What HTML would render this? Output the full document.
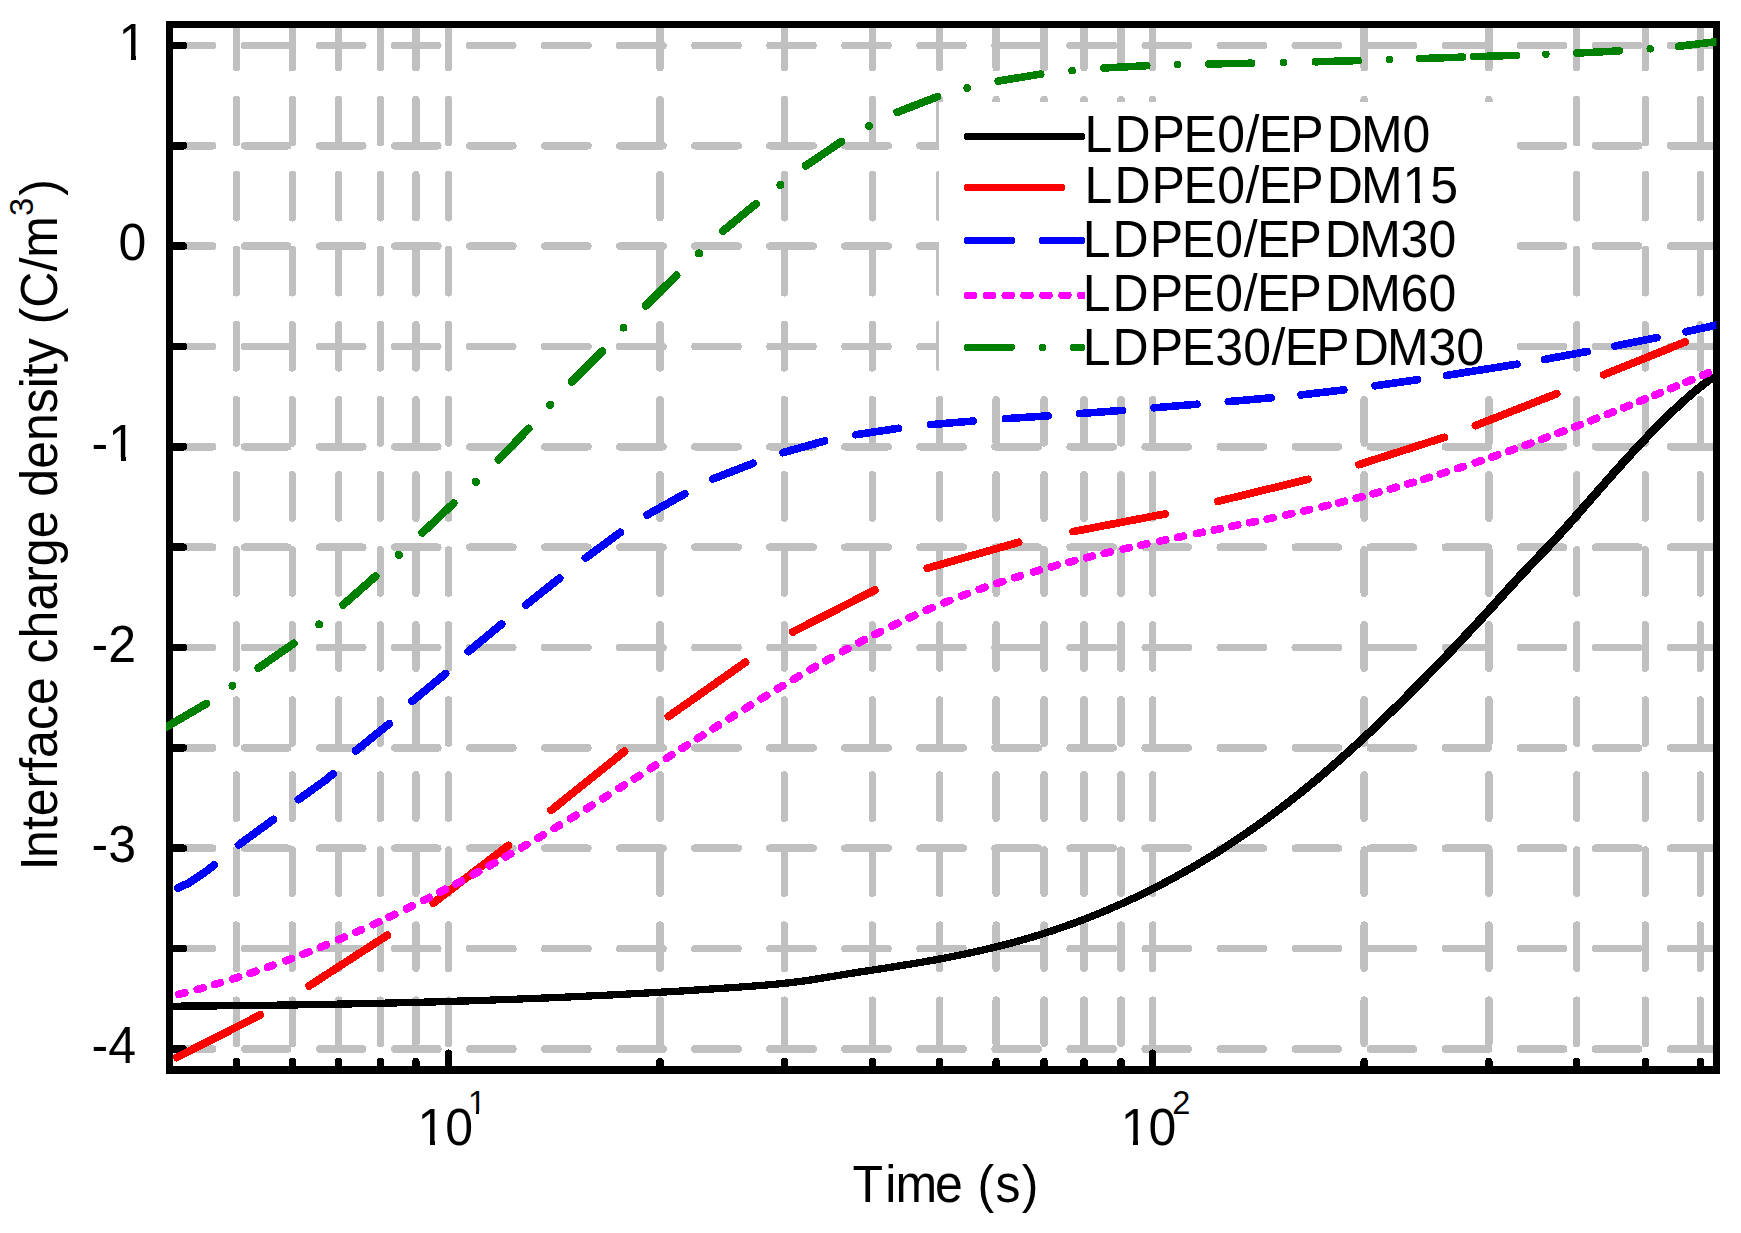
<!DOCTYPE html>
<html lang="en"><head><meta charset="utf-8"><title>Interface charge density vs time</title>
<style>html,body{margin:0;padding:0;background:#fff}svg{display:block}text{font-family:"Liberation Sans",Arial,sans-serif;fill:#000}</style>
</head><body>
<svg width="1741" height="1233" viewBox="0 0 1741 1233" shape-rendering="crispEdges">
<rect x="0" y="0" width="1741" height="1233" fill="#fff"/>
<defs>
<clipPath id="plotclip"><rect x="166" y="21" width="1550.5" height="1052"/></clipPath>
<clipPath id="gridclip"><rect x="166" y="21" width="1554" height="1052"/></clipPath>
</defs>
<g stroke="#c0c0c0" stroke-width="7.5" stroke-linecap="round" stroke-dasharray="43.2 31.85" fill="none" clip-path="url(#gridclip)">
<line x1="236.4" y1="24.5" x2="236.4" y2="1069.8"/>
<line x1="292.3" y1="24.5" x2="292.3" y2="1069.8"/>
<line x1="338.7" y1="24.5" x2="338.7" y2="1069.8"/>
<line x1="380.4" y1="24.5" x2="380.4" y2="1069.8"/>
<line x1="415.9" y1="24.5" x2="415.9" y2="1069.8"/>
<line x1="448.5" y1="24.5" x2="448.5" y2="1069.8"/>
<line x1="660.0" y1="24.5" x2="660.0" y2="1069.8"/>
<line x1="784.4" y1="24.5" x2="784.4" y2="1069.8"/>
<line x1="872.4" y1="24.5" x2="872.4" y2="1069.8"/>
<line x1="939.6" y1="24.5" x2="939.6" y2="1069.8"/>
<line x1="996.2" y1="24.5" x2="996.2" y2="1069.8"/>
<line x1="1044.1" y1="24.5" x2="1044.1" y2="1069.8"/>
<line x1="1084.0" y1="24.5" x2="1084.0" y2="1069.8"/>
<line x1="1121.0" y1="24.5" x2="1121.0" y2="1069.8"/>
<line x1="1152.6" y1="24.5" x2="1152.6" y2="1069.8"/>
<line x1="1364.2" y1="24.5" x2="1364.2" y2="1069.8"/>
<line x1="1488.9" y1="24.5" x2="1488.9" y2="1069.8"/>
<line x1="1576.7" y1="24.5" x2="1576.7" y2="1069.8"/>
<line x1="1645.3" y1="24.5" x2="1645.3" y2="1069.8"/>
<line x1="1700.3" y1="24.5" x2="1700.3" y2="1069.8"/>
<line x1="169.5" y1="45.5" x2="1716.5" y2="45.5"/>
<line x1="169.5" y1="145.8" x2="1716.5" y2="145.8"/>
<line x1="169.5" y1="246.1" x2="1716.5" y2="246.1"/>
<line x1="169.5" y1="346.5" x2="1716.5" y2="346.5"/>
<line x1="169.5" y1="446.8" x2="1716.5" y2="446.8"/>
<line x1="169.5" y1="547.2" x2="1716.5" y2="547.2"/>
<line x1="169.5" y1="647.5" x2="1716.5" y2="647.5"/>
<line x1="169.5" y1="747.9" x2="1716.5" y2="747.9"/>
<line x1="169.5" y1="848.2" x2="1716.5" y2="848.2"/>
<line x1="169.5" y1="948.6" x2="1716.5" y2="948.6"/>
<line x1="169.5" y1="1049.0" x2="1716.5" y2="1049.0"/>
</g>
<g stroke="#000" stroke-width="7.5" fill="none">
<rect x="169.5" y="24.5" width="1547.0" height="1045.3" stroke-linejoin="miter"/>
</g>
<g stroke="#000" stroke-width="7.5" stroke-linecap="round" fill="none">
<line x1="169.5" y1="45.5" x2="183.5" y2="45.5"/>
<line x1="169.5" y1="145.8" x2="183.5" y2="145.8"/>
<line x1="169.5" y1="246.1" x2="183.5" y2="246.1"/>
<line x1="169.5" y1="346.5" x2="183.5" y2="346.5"/>
<line x1="169.5" y1="446.8" x2="183.5" y2="446.8"/>
<line x1="169.5" y1="547.2" x2="183.5" y2="547.2"/>
<line x1="169.5" y1="647.5" x2="183.5" y2="647.5"/>
<line x1="169.5" y1="747.9" x2="183.5" y2="747.9"/>
<line x1="169.5" y1="848.2" x2="183.5" y2="848.2"/>
<line x1="169.5" y1="948.6" x2="183.5" y2="948.6"/>
<line x1="169.5" y1="1049.0" x2="183.5" y2="1049.0"/>
<line x1="236.4" y1="1069.8" x2="236.4" y2="1061.5"/>
<line x1="292.3" y1="1069.8" x2="292.3" y2="1061.5"/>
<line x1="338.7" y1="1069.8" x2="338.7" y2="1061.5"/>
<line x1="380.4" y1="1069.8" x2="380.4" y2="1061.5"/>
<line x1="415.9" y1="1069.8" x2="415.9" y2="1061.5"/>
<line x1="448.5" y1="1069.8" x2="448.5" y2="1053.2"/>
<line x1="660.0" y1="1069.8" x2="660.0" y2="1061.5"/>
<line x1="784.4" y1="1069.8" x2="784.4" y2="1061.5"/>
<line x1="872.4" y1="1069.8" x2="872.4" y2="1061.5"/>
<line x1="939.6" y1="1069.8" x2="939.6" y2="1061.5"/>
<line x1="996.2" y1="1069.8" x2="996.2" y2="1061.5"/>
<line x1="1044.1" y1="1069.8" x2="1044.1" y2="1061.5"/>
<line x1="1084.0" y1="1069.8" x2="1084.0" y2="1061.5"/>
<line x1="1121.0" y1="1069.8" x2="1121.0" y2="1061.5"/>
<line x1="1152.6" y1="1069.8" x2="1152.6" y2="1053.2"/>
<line x1="1364.2" y1="1069.8" x2="1364.2" y2="1061.5"/>
<line x1="1488.9" y1="1069.8" x2="1488.9" y2="1061.5"/>
<line x1="1576.7" y1="1069.8" x2="1576.7" y2="1061.5"/>
<line x1="1645.3" y1="1069.8" x2="1645.3" y2="1061.5"/>
<line x1="1700.3" y1="1069.8" x2="1700.3" y2="1061.5"/>
</g>
<rect x="939" y="102" width="555" height="270" fill="#fff"/>
<g fill="none" stroke-linejoin="round" stroke-linecap="round" clip-path="url(#plotclip)">
<path d="M166.0 1009.9 L169.0 1009.9 L172.0 1009.8 L175.0 1009.8 L178.0 1009.8 L181.0 1009.8 L184.0 1009.7 L187.0 1009.7 L190.0 1009.7 L193.0 1009.7 L196.0 1009.6 L199.0 1009.6 L202.0 1009.6 L205.0 1009.6 L208.0 1009.5 L211.0 1009.5 L214.0 1009.5 L217.0 1009.5 L220.0 1009.4 L223.0 1009.4 L226.0 1009.4 L229.0 1009.3 L232.0 1009.3 L235.0 1009.3 L238.0 1009.2 L241.0 1009.2 L244.0 1009.2 L247.0 1009.1 L250.0 1009.1 L253.0 1009.1 L256.0 1009.0 L259.0 1009.0 L262.0 1009.0 L265.0 1008.9 L268.0 1008.9 L271.0 1008.8 L274.0 1008.8 L277.1 1008.8 L280.1 1008.7 L283.1 1008.7 L286.1 1008.6 L289.1 1008.6 L292.1 1008.5 L295.1 1008.5 L298.1 1008.5 L301.1 1008.4 L304.1 1008.4 L307.1 1008.3 L310.1 1008.3 L313.1 1008.2 L316.1 1008.2 L319.1 1008.1 L322.1 1008.1 L325.1 1008.0 L328.1 1008.0 L331.1 1007.9 L334.1 1007.8 L337.1 1007.8 L340.1 1007.7 L343.1 1007.7 L346.1 1007.6 L349.1 1007.6 L352.1 1007.5 L355.1 1007.4 L358.1 1007.4 L361.1 1007.3 L364.1 1007.2 L367.1 1007.2 L370.1 1007.1 L373.1 1007.1 L376.1 1007.0 L379.1 1006.9 L382.1 1006.8 L385.1 1006.8 L388.1 1006.7 L391.1 1006.6 L394.1 1006.6 L397.1 1006.5 L400.1 1006.4 L403.1 1006.3 L406.1 1006.3 L409.1 1006.2 L412.1 1006.1 L415.1 1006.0 L418.1 1006.0 L421.1 1005.9 L424.1 1005.8 L427.1 1005.7 L430.1 1005.6 L433.1 1005.5 L436.1 1005.5 L439.1 1005.4 L442.1 1005.3 L445.1 1005.2 L448.1 1005.1 L451.1 1005.0 L454.1 1004.9 L457.1 1004.8 L460.1 1004.7 L463.1 1004.6 L466.1 1004.6 L469.1 1004.5 L472.1 1004.4 L475.1 1004.3 L478.1 1004.2 L481.1 1004.1 L484.1 1004.0 L487.1 1003.9 L490.1 1003.8 L493.1 1003.6 L496.1 1003.5 L499.1 1003.4 L502.1 1003.3 L505.1 1003.2 L508.1 1003.1 L511.1 1003.0 L514.1 1002.9 L517.1 1002.8 L520.1 1002.6 L523.1 1002.5 L526.1 1002.4 L529.1 1002.3 L532.1 1002.2 L535.1 1002.1 L538.1 1001.9 L541.2 1001.8 L544.2 1001.7 L547.2 1001.6 L550.2 1001.4 L553.2 1001.3 L556.2 1001.2 L559.2 1001.0 L562.2 1000.9 L565.2 1000.8 L568.2 1000.6 L571.2 1000.5 L574.2 1000.4 L577.2 1000.2 L580.2 1000.1 L583.2 1000.0 L586.2 999.8 L589.2 999.7 L592.2 999.5 L595.2 999.4 L598.2 999.2 L601.2 999.1 L604.2 998.9 L607.2 998.8 L610.2 998.6 L613.2 998.5 L616.2 998.3 L619.2 998.2 L622.2 998.0 L625.2 997.8 L628.2 997.7 L631.2 997.5 L634.2 997.4 L637.2 997.2 L640.2 997.0 L643.2 996.9 L646.2 996.7 L649.2 996.5 L652.2 996.4 L655.2 996.2 L658.2 996.0 L661.2 995.8 L664.2 995.6 L667.2 995.5 L670.2 995.3 L673.2 995.1 L676.2 994.9 L679.2 994.7 L682.2 994.6 L685.2 994.4 L688.2 994.2 L691.2 994.0 L694.2 993.8 L697.2 993.6 L700.2 993.4 L703.2 993.2 L706.2 993.0 L709.2 992.8 L712.2 992.6 L715.2 992.4 L718.2 992.2 L721.3 992.0 L724.3 991.8 L727.3 991.6 L730.3 991.4 L733.3 991.2 L736.3 990.9 L739.3 990.7 L742.3 990.5 L745.3 990.3 L748.3 990.1 L751.3 989.9 L754.3 989.6 L757.3 989.4 L760.3 989.2 L763.3 988.9 L766.3 988.7 L769.3 988.4 L772.3 988.2 L775.3 987.9 L778.4 987.6 L781.4 987.3 L784.4 987.0 L787.4 986.7 L790.4 986.3 L793.4 986.0 L796.5 985.6 L799.5 985.2 L802.5 984.8 L805.5 984.4 L808.5 983.9 L811.6 983.5 L814.6 983.0 L817.6 982.5 L820.6 982.0 L823.6 981.5 L826.6 981.0 L829.6 980.5 L832.6 980.0 L835.6 979.6 L838.6 979.1 L841.6 978.6 L844.6 978.1 L847.6 977.6 L850.6 977.1 L853.6 976.7 L856.6 976.2 L859.6 975.7 L862.6 975.3 L865.6 974.8 L868.6 974.4 L871.6 973.9 L874.6 973.4 L877.6 973.0 L880.6 972.5 L883.6 972.1 L886.6 971.6 L889.6 971.1 L892.6 970.7 L895.6 970.2 L898.6 969.7 L901.6 969.2 L904.6 968.8 L907.6 968.3 L910.6 967.8 L913.6 967.3 L916.6 966.8 L919.6 966.3 L922.6 965.8 L925.6 965.3 L928.6 964.7 L931.6 964.2 L934.7 963.7 L937.7 963.1 L940.7 962.6 L943.7 962.0 L946.7 961.4 L949.7 960.8 L952.7 960.2 L955.7 959.6 L958.7 959.0 L961.7 958.4 L964.8 957.8 L967.8 957.2 L970.8 956.5 L973.8 955.9 L976.8 955.2 L979.8 954.5 L982.8 953.8 L985.8 953.1 L988.9 952.4 L991.9 951.7 L994.9 951.0 L997.9 950.2 L1000.9 949.5 L1003.9 948.7 L1006.9 947.9 L1009.9 947.2 L1013.0 946.4 L1016.0 945.5 L1019.0 944.7 L1022.0 943.9 L1025.0 943.0 L1028.0 942.1 L1031.1 941.3 L1034.1 940.4 L1037.1 939.4 L1040.1 938.5 L1043.1 937.6 L1046.1 936.6 L1049.1 935.6 L1052.2 934.7 L1055.2 933.7 L1058.2 932.6 L1061.2 931.6 L1064.2 930.6 L1067.2 929.5 L1070.3 928.4 L1073.3 927.4 L1076.3 926.3 L1079.3 925.1 L1082.3 924.0 L1085.3 922.9 L1088.4 921.7 L1091.4 920.5 L1094.4 919.3 L1097.4 918.1 L1100.4 916.9 L1103.4 915.6 L1106.5 914.4 L1109.5 913.1 L1112.5 911.8 L1115.5 910.5 L1118.5 909.2 L1121.5 907.9 L1124.6 906.5 L1127.6 905.2 L1130.6 903.8 L1133.6 902.4 L1136.6 901.0 L1139.6 899.5 L1142.7 898.1 L1145.7 896.6 L1148.7 895.1 L1151.7 893.6 L1154.7 892.1 L1157.7 890.6 L1160.8 889.1 L1163.8 887.5 L1166.8 885.9 L1169.8 884.3 L1172.8 882.7 L1175.8 881.1 L1178.9 879.4 L1181.9 877.7 L1184.9 876.1 L1187.9 874.4 L1190.9 872.6 L1193.9 870.9 L1197.0 869.1 L1200.0 867.4 L1203.0 865.6 L1206.0 863.8 L1209.0 861.9 L1212.0 860.1 L1215.1 858.2 L1218.1 856.4 L1221.1 854.5 L1224.1 852.5 L1227.1 850.6 L1230.1 848.7 L1233.2 846.7 L1236.2 844.7 L1239.2 842.7 L1242.2 840.7 L1245.2 838.6 L1248.2 836.6 L1251.3 834.5 L1254.3 832.4 L1257.3 830.3 L1260.3 828.1 L1263.3 826.0 L1266.3 823.8 L1269.4 821.6 L1272.4 819.4 L1275.4 817.2 L1278.4 814.9 L1281.4 812.7 L1284.4 810.4 L1287.5 808.1 L1290.5 805.8 L1293.5 803.4 L1296.5 801.1 L1299.5 798.7 L1302.5 796.3 L1305.6 793.9 L1308.6 791.5 L1311.6 789.0 L1314.6 786.6 L1317.6 784.1 L1320.6 781.6 L1323.7 779.0 L1326.7 776.5 L1329.7 773.9 L1332.7 771.3 L1335.7 768.7 L1338.7 766.1 L1341.8 763.5 L1344.8 760.8 L1347.8 758.1 L1350.8 755.4 L1353.8 752.7 L1356.8 750.0 L1359.9 747.2 L1362.9 744.5 L1365.9 741.7 L1368.9 738.9 L1371.9 736.1 L1374.9 733.3 L1377.9 730.4 L1380.9 727.6 L1384.0 724.7 L1387.0 721.8 L1390.0 718.9 L1393.0 716.0 L1396.0 713.0 L1399.0 710.1 L1402.0 707.1 L1405.0 704.2 L1408.0 701.2 L1411.1 698.2 L1414.1 695.2 L1417.1 692.1 L1420.1 689.1 L1423.1 686.1 L1426.1 683.0 L1429.1 679.9 L1432.1 676.9 L1435.1 673.8 L1438.1 670.7 L1441.1 667.6 L1444.1 664.4 L1447.1 661.3 L1450.2 658.2 L1453.2 655.0 L1456.2 651.9 L1459.2 648.7 L1462.2 645.5 L1465.2 642.3 L1468.2 639.1 L1471.2 635.9 L1474.2 632.7 L1477.2 629.5 L1480.2 626.3 L1483.2 623.0 L1486.2 619.8 L1489.2 616.5 L1492.2 613.2 L1495.3 610.0 L1498.3 606.7 L1501.3 603.4 L1504.3 600.1 L1507.3 596.7 L1510.3 593.4 L1513.3 590.2 L1516.3 586.9 L1519.3 583.6 L1522.3 580.4 L1525.2 577.2 L1528.2 574.0 L1531.2 570.8 L1534.2 567.7 L1537.2 564.5 L1540.2 561.4 L1543.2 558.3 L1546.2 555.1 L1549.2 552.0 L1552.2 548.8 L1555.2 545.6 L1558.2 542.4 L1561.2 539.1 L1564.2 535.8 L1567.2 532.5 L1570.3 529.1 L1573.3 525.7 L1576.3 522.3 L1579.3 518.9 L1582.3 515.5 L1585.3 512.0 L1588.2 508.6 L1591.2 505.2 L1594.2 501.8 L1597.2 498.4 L1600.2 494.9 L1603.2 491.5 L1606.2 488.1 L1609.2 484.7 L1612.2 481.3 L1615.2 478.0 L1618.2 474.6 L1621.2 471.3 L1624.2 467.9 L1627.1 464.6 L1630.1 461.3 L1633.1 458.0 L1636.1 454.8 L1639.1 451.5 L1642.1 448.3 L1645.1 445.1 L1648.1 442.0 L1651.0 438.8 L1654.0 435.7 L1657.0 432.6 L1660.0 429.6 L1663.0 426.6 L1665.9 423.6 L1668.9 420.6 L1671.9 417.7 L1674.9 414.9 L1677.9 412.0 L1680.8 409.3 L1683.8 406.5 L1686.8 403.8 L1689.7 401.2 L1692.7 398.6 L1695.7 396.0 L1698.6 393.6 L1701.6 391.1 L1704.6 388.7 L1707.5 386.4 L1710.5 384.1 L1713.4 381.9 L1716.4 379.7 L1711.6 373.1 L1708.6 375.3 L1705.5 377.6 L1702.5 379.9 L1699.4 382.3 L1696.4 384.7 L1693.4 387.2 L1690.3 389.7 L1687.3 392.3 L1684.3 395.0 L1681.2 397.7 L1678.2 400.4 L1675.2 403.2 L1672.1 406.0 L1669.1 408.8 L1666.1 411.7 L1663.1 414.7 L1660.1 417.6 L1657.0 420.7 L1654.0 423.7 L1651.0 426.8 L1648.0 429.9 L1645.0 433.0 L1641.9 436.2 L1638.9 439.3 L1635.9 442.6 L1632.9 445.8 L1629.9 449.0 L1626.9 452.3 L1623.9 455.6 L1620.9 458.9 L1617.8 462.2 L1614.8 465.6 L1611.8 468.9 L1608.8 472.3 L1605.8 475.7 L1602.8 479.1 L1599.8 482.5 L1596.8 485.9 L1593.8 489.3 L1590.8 492.7 L1587.8 496.1 L1584.8 499.5 L1581.8 502.9 L1578.7 506.3 L1575.7 509.7 L1572.7 513.2 L1569.7 516.6 L1566.7 519.9 L1563.7 523.3 L1560.8 526.6 L1557.8 529.9 L1554.8 533.2 L1551.8 536.4 L1548.8 539.6 L1545.8 542.7 L1542.8 545.9 L1539.8 549.0 L1536.8 552.2 L1533.8 555.3 L1530.8 558.4 L1527.8 561.5 L1524.8 564.7 L1521.8 567.9 L1518.8 571.1 L1515.7 574.3 L1512.7 577.6 L1509.7 580.9 L1506.7 584.2 L1503.7 587.5 L1500.7 590.8 L1497.7 594.1 L1494.7 597.4 L1491.7 600.7 L1488.7 604.0 L1485.8 607.3 L1482.8 610.6 L1479.8 613.8 L1476.8 617.1 L1473.8 620.3 L1470.8 623.5 L1467.8 626.7 L1464.8 630.0 L1461.8 633.2 L1458.8 636.3 L1455.8 639.5 L1452.8 642.7 L1449.8 645.9 L1446.8 649.0 L1443.8 652.2 L1440.9 655.3 L1437.9 658.4 L1434.9 661.5 L1431.9 664.6 L1428.9 667.7 L1425.9 670.8 L1422.9 673.9 L1419.9 676.9 L1416.9 680.0 L1413.9 683.0 L1410.9 686.1 L1407.9 689.1 L1404.9 692.1 L1402.0 695.1 L1399.0 698.0 L1396.0 701.0 L1393.0 704.0 L1390.0 706.9 L1387.0 709.8 L1384.0 712.7 L1381.0 715.6 L1378.0 718.5 L1375.1 721.4 L1372.1 724.2 L1369.1 727.1 L1366.1 729.9 L1363.1 732.7 L1360.1 735.5 L1357.1 738.3 L1354.1 741.0 L1351.2 743.8 L1348.2 746.5 L1345.2 749.2 L1342.2 751.9 L1339.2 754.5 L1336.2 757.2 L1333.3 759.8 L1330.3 762.4 L1327.3 765.0 L1324.3 767.6 L1321.3 770.2 L1318.3 772.7 L1315.4 775.2 L1312.4 777.7 L1309.4 780.2 L1306.4 782.7 L1303.4 785.1 L1300.4 787.6 L1297.5 790.0 L1294.5 792.3 L1291.5 794.7 L1288.5 797.1 L1285.5 799.4 L1282.5 801.7 L1279.6 804.0 L1276.6 806.3 L1273.6 808.5 L1270.6 810.8 L1267.6 813.0 L1264.6 815.2 L1261.7 817.4 L1258.7 819.5 L1255.7 821.7 L1252.7 823.8 L1249.7 825.9 L1246.7 828.0 L1243.8 830.1 L1240.8 832.1 L1237.8 834.1 L1234.8 836.2 L1231.8 838.1 L1228.8 840.1 L1225.9 842.1 L1222.9 844.0 L1219.9 845.9 L1216.9 847.9 L1213.9 849.7 L1210.9 851.6 L1208.0 853.5 L1205.0 855.3 L1202.0 857.1 L1199.0 858.9 L1196.0 860.7 L1193.0 862.5 L1190.1 864.2 L1187.1 865.9 L1184.1 867.6 L1181.1 869.3 L1178.1 871.0 L1175.1 872.7 L1172.2 874.3 L1169.2 875.9 L1166.2 877.5 L1163.2 879.1 L1160.2 880.7 L1157.2 882.3 L1154.3 883.8 L1151.3 885.3 L1148.3 886.8 L1145.3 888.3 L1142.3 889.8 L1139.3 891.2 L1136.4 892.7 L1133.4 894.1 L1130.4 895.5 L1127.4 896.9 L1124.4 898.3 L1121.4 899.6 L1118.5 901.0 L1115.5 902.3 L1112.5 903.6 L1109.5 904.9 L1106.5 906.2 L1103.5 907.5 L1100.6 908.7 L1097.6 909.9 L1094.6 911.2 L1091.6 912.4 L1088.6 913.5 L1085.6 914.7 L1082.7 915.9 L1079.7 917.0 L1076.7 918.1 L1073.7 919.2 L1070.7 920.3 L1067.7 921.4 L1064.8 922.5 L1061.8 923.5 L1058.8 924.6 L1055.8 925.6 L1052.8 926.6 L1049.8 927.6 L1046.9 928.6 L1043.9 929.5 L1040.9 930.5 L1037.9 931.4 L1034.9 932.3 L1031.9 933.2 L1028.9 934.1 L1026.0 935.0 L1023.0 935.9 L1020.0 936.7 L1017.0 937.6 L1014.0 938.4 L1011.0 939.2 L1008.1 940.0 L1005.1 940.8 L1002.1 941.6 L999.1 942.3 L996.1 943.1 L993.1 943.8 L990.1 944.5 L987.1 945.2 L984.2 946.0 L981.2 946.6 L978.2 947.3 L975.2 948.0 L972.2 948.7 L969.2 949.3 L966.2 950.0 L963.2 950.6 L960.3 951.2 L957.3 951.8 L954.3 952.4 L951.3 953.0 L948.3 953.6 L945.3 954.2 L942.3 954.8 L939.3 955.3 L936.3 955.9 L933.3 956.4 L930.4 957.0 L927.4 957.5 L924.4 958.0 L921.4 958.6 L918.4 959.1 L915.4 959.6 L912.4 960.1 L909.4 960.6 L906.4 961.1 L903.4 961.5 L900.4 962.0 L897.4 962.5 L894.4 963.0 L891.4 963.4 L888.4 963.9 L885.4 964.4 L882.4 964.8 L879.4 965.3 L876.4 965.8 L873.4 966.2 L870.4 966.7 L867.4 967.1 L864.4 967.6 L861.4 968.1 L858.4 968.5 L855.4 969.0 L852.4 969.5 L849.4 969.9 L846.4 970.4 L843.4 970.9 L840.4 971.4 L837.4 971.9 L834.4 972.4 L831.4 972.8 L828.4 973.3 L825.4 973.8 L822.4 974.3 L819.4 974.8 L816.4 975.3 L813.4 975.8 L810.4 976.3 L807.5 976.7 L804.5 977.1 L801.5 977.6 L798.5 978.0 L795.5 978.4 L792.6 978.7 L789.6 979.1 L786.6 979.4 L783.6 979.7 L780.6 980.0 L777.6 980.3 L774.7 980.6 L771.7 980.9 L768.7 981.2 L765.7 981.4 L762.7 981.7 L759.7 981.9 L756.7 982.1 L753.7 982.4 L750.7 982.6 L747.7 982.8 L744.7 983.0 L741.7 983.2 L738.7 983.5 L735.7 983.7 L732.7 983.9 L729.7 984.1 L726.7 984.3 L723.7 984.5 L720.7 984.7 L717.8 984.9 L714.8 985.1 L711.8 985.3 L708.8 985.5 L705.8 985.7 L702.8 985.9 L699.8 986.1 L696.8 986.3 L693.8 986.5 L690.8 986.7 L687.8 986.9 L684.8 987.1 L681.8 987.3 L678.8 987.5 L675.8 987.6 L672.8 987.8 L669.8 988.0 L666.8 988.2 L663.8 988.4 L660.8 988.5 L657.8 988.7 L654.8 988.9 L651.8 989.1 L648.8 989.2 L645.8 989.4 L642.8 989.6 L639.8 989.7 L636.8 989.9 L633.8 990.1 L630.8 990.2 L627.8 990.4 L624.8 990.6 L621.8 990.7 L618.8 990.9 L615.8 991.0 L612.8 991.2 L609.8 991.3 L606.8 991.5 L603.8 991.6 L600.8 991.8 L597.8 991.9 L594.8 992.1 L591.8 992.2 L588.8 992.4 L585.8 992.5 L582.8 992.7 L579.8 992.8 L576.8 992.9 L573.8 993.1 L570.8 993.2 L567.8 993.4 L564.8 993.5 L561.8 993.6 L558.8 993.8 L555.8 993.9 L552.8 994.0 L549.8 994.1 L546.8 994.3 L543.8 994.4 L540.8 994.5 L537.9 994.6 L534.9 994.8 L531.9 994.9 L528.9 995.0 L525.9 995.1 L522.9 995.2 L519.9 995.4 L516.9 995.5 L513.9 995.6 L510.9 995.7 L507.9 995.8 L504.9 995.9 L501.9 996.0 L498.9 996.1 L495.9 996.2 L492.9 996.4 L489.9 996.5 L486.9 996.6 L483.9 996.7 L480.9 996.8 L477.9 996.9 L474.9 997.0 L471.9 997.1 L468.9 997.2 L465.9 997.3 L462.9 997.4 L459.9 997.4 L456.9 997.5 L453.9 997.6 L450.9 997.7 L447.9 997.8 L444.9 997.9 L441.9 998.0 L438.9 998.1 L435.9 998.2 L432.9 998.2 L429.9 998.3 L426.9 998.4 L423.9 998.5 L420.9 998.6 L417.9 998.7 L414.9 998.7 L411.9 998.8 L408.9 998.9 L405.9 999.0 L402.9 999.0 L399.9 999.1 L396.9 999.2 L393.9 999.3 L390.9 999.3 L387.9 999.4 L384.9 999.5 L381.9 999.6 L378.9 999.6 L375.9 999.7 L372.9 999.8 L369.9 999.8 L366.9 999.9 L363.9 999.9 L360.9 1000.0 L357.9 1000.1 L354.9 1000.1 L351.9 1000.2 L348.9 1000.3 L345.9 1000.3 L342.9 1000.4 L339.9 1000.4 L336.9 1000.5 L333.9 1000.5 L330.9 1000.6 L327.9 1000.7 L324.9 1000.7 L321.9 1000.8 L318.9 1000.8 L315.9 1000.9 L312.9 1000.9 L309.9 1001.0 L306.9 1001.0 L303.9 1001.1 L300.9 1001.1 L297.9 1001.2 L294.9 1001.2 L291.9 1001.2 L288.9 1001.3 L285.9 1001.3 L282.9 1001.4 L279.9 1001.4 L276.9 1001.5 L274.0 1001.5 L271.0 1001.5 L268.0 1001.6 L265.0 1001.6 L262.0 1001.7 L259.0 1001.7 L256.0 1001.7 L253.0 1001.8 L250.0 1001.8 L247.0 1001.8 L244.0 1001.9 L241.0 1001.9 L238.0 1001.9 L235.0 1002.0 L232.0 1002.0 L229.0 1002.0 L226.0 1002.1 L223.0 1002.1 L220.0 1002.1 L217.0 1002.2 L214.0 1002.2 L211.0 1002.2 L208.0 1002.2 L205.0 1002.3 L202.0 1002.3 L199.0 1002.3 L196.0 1002.3 L193.0 1002.4 L190.0 1002.4 L187.0 1002.4 L184.0 1002.4 L181.0 1002.5 L178.0 1002.5 L175.0 1002.5 L172.0 1002.5 L169.0 1002.6 L166.0 1002.6Z" fill="#000" stroke="none"/>
<path d="M176.8 1057.4 L260.4 1014.9" stroke="#ff0000" stroke-width="7.90"/>
<path d="M309.3 985.8 L387.4 935.2" stroke="#ff0000" stroke-width="7.96"/>
<path d="M433.4 903.0 L508.2 845.6" stroke="#ff0000" stroke-width="7.98"/>
<path d="M551.3 810.2 L624.5 751.4" stroke="#ff0000" stroke-width="7.99"/>
<path d="M668.5 716.5 L745.4 662.3" stroke="#ff0000" stroke-width="7.97"/>
<path d="M792.7 632.0 L874.7 590.1" stroke="#ff0000" stroke-width="7.91"/>
<path d="M927.4 568.2 L1018.7 542.3" stroke="#ff0000" stroke-width="7.76"/>
<path d="M1073.1 531.6 L1165.3 513.9" stroke="#ff0000" stroke-width="7.69"/>
<path d="M1218.0 501.3 L1307.9 479.4" stroke="#ff0000" stroke-width="7.73"/>
<path d="M1359.0 464.6 L1444.4 437.3" stroke="#ff0000" stroke-width="7.79"/>
<path d="M1475.5 425.6 L1556.7 393.7" stroke="#ff0000" stroke-width="7.84"/>
<path d="M1603.9 374.7 L1685.1 342.0" stroke="#ff0000" stroke-width="7.85"/>
<path d="M178.0 887.9 L188.0 883.4 L206.0 871.4 L214.3 864.9" stroke="#0000ff" stroke-width="7.95"/>
<path d="M238.6 845.0 L273.3 819.6" stroke="#0000ff" stroke-width="7.98"/>
<path d="M298.5 799.5 L326.0 779.8 L333.0 773.8" stroke="#0000ff" stroke-width="7.98"/>
<path d="M355.8 750.7 L389.2 723.7" stroke="#0000ff" stroke-width="7.99"/>
<path d="M412.2 701.2 L445.4 673.8" stroke="#0000ff" stroke-width="7.99"/>
<path d="M468.5 651.5 L501.6 624.1" stroke="#0000ff" stroke-width="7.99"/>
<path d="M525.9 604.9 L559.6 578.2" stroke="#0000ff" stroke-width="7.99"/>
<path d="M585.6 558.0 L620.2 532.5" stroke="#0000ff" stroke-width="7.98"/>
<path d="M647.2 514.9 L684.7 493.9" stroke="#0000ff" stroke-width="7.93"/>
<path d="M712.9 478.9 L753.0 463.4" stroke="#0000ff" stroke-width="7.84"/>
<path d="M783.1 452.6 L824.5 441.0" stroke="#0000ff" stroke-width="7.76"/>
<path d="M855.9 434.7 L898.5 428.3" stroke="#0000ff" stroke-width="7.65"/>
<path d="M930.4 424.7 L973.2 421.0" stroke="#0000ff" stroke-width="7.59"/>
<path d="M1005.3 418.7 L1048.2 415.8" stroke="#0000ff" stroke-width="7.57"/>
<path d="M1079.5 413.6 L1122.3 410.4" stroke="#0000ff" stroke-width="7.58"/>
<path d="M1154.1 407.8 L1196.9 404.2" stroke="#0000ff" stroke-width="7.58"/>
<path d="M1228.3 401.6 L1271.2 397.8" stroke="#0000ff" stroke-width="7.59"/>
<path d="M1301.1 394.9 L1343.8 389.9" stroke="#0000ff" stroke-width="7.62"/>
<path d="M1375.0 385.8 L1417.5 379.7" stroke="#0000ff" stroke-width="7.64"/>
<path d="M1446.6 375.4 L1516.8 364.2" stroke="#0000ff" stroke-width="7.66"/>
<path d="M1544.8 359.4 L1587.1 351.5" stroke="#0000ff" stroke-width="7.68"/>
<path d="M1614.8 346.1 L1656.9 337.7" stroke="#0000ff" stroke-width="7.69"/>
<path d="M1686.0 331.7 L1716.5 325.1" stroke="#0000ff" stroke-width="7.71"/>
<path d="M178.9 994.4 L184.7 992.9" stroke="#ff00ff" stroke-width="7.74"/>
<path d="M197.3 989.5 L203.1 987.8" stroke="#ff00ff" stroke-width="7.76"/>
<path d="M214.5 984.5 L220.3 982.8" stroke="#ff00ff" stroke-width="7.77"/>
<path d="M232.9 978.9 L238.7 977.1" stroke="#ff00ff" stroke-width="7.79"/>
<path d="M250.2 973.3 L255.8 971.4" stroke="#ff00ff" stroke-width="7.80"/>
<path d="M267.5 967.3 L273.1 965.3" stroke="#ff00ff" stroke-width="7.82"/>
<path d="M285.9 960.7 L291.5 958.6" stroke="#ff00ff" stroke-width="7.83"/>
<path d="M303.1 954.1 L308.7 951.9" stroke="#ff00ff" stroke-width="7.84"/>
<path d="M320.8 947.1 L326.4 944.8" stroke="#ff00ff" stroke-width="7.85"/>
<path d="M338.7 939.6 L344.3 937.3" stroke="#ff00ff" stroke-width="7.86"/>
<path d="M356.0 932.2 L361.4 929.8" stroke="#ff00ff" stroke-width="7.87"/>
<path d="M373.3 924.5 L378.7 922.0" stroke="#ff00ff" stroke-width="7.88"/>
<path d="M389.3 917.0 L394.7 914.5" stroke="#ff00ff" stroke-width="7.89"/>
<path d="M406.6 908.8 L412.0 906.1" stroke="#ff00ff" stroke-width="7.89"/>
<path d="M423.8 900.3 L429.2 897.6" stroke="#ff00ff" stroke-width="7.90"/>
<path d="M439.9 892.1 L445.3 889.4" stroke="#ff00ff" stroke-width="7.91"/>
<path d="M456.0 883.8 L461.4 881.0" stroke="#ff00ff" stroke-width="7.91"/>
<path d="M473.3 874.6 L478.5 871.7" stroke="#ff00ff" stroke-width="7.92"/>
<path d="M489.4 865.8 L494.6 862.9" stroke="#ff00ff" stroke-width="7.92"/>
<path d="M505.5 856.8 L510.7 853.8" stroke="#ff00ff" stroke-width="7.93"/>
<path d="M521.6 847.6 L526.8 844.6" stroke="#ff00ff" stroke-width="7.93"/>
<path d="M537.9 838.1 L543.1 835.1" stroke="#ff00ff" stroke-width="7.94"/>
<path d="M554.2 828.4 L559.4 825.3" stroke="#ff00ff" stroke-width="7.94"/>
<path d="M570.7 818.5 L575.9 815.3" stroke="#ff00ff" stroke-width="7.94"/>
<path d="M586.8 808.6 L591.9 805.4" stroke="#ff00ff" stroke-width="7.95"/>
<path d="M603.0 798.5 L608.0 795.4" stroke="#ff00ff" stroke-width="7.95"/>
<path d="M619.1 788.4 L624.1 785.2" stroke="#ff00ff" stroke-width="7.95"/>
<path d="M634.5 778.7 L639.5 775.5" stroke="#ff00ff" stroke-width="7.95"/>
<path d="M650.5 768.5 L655.5 765.3" stroke="#ff00ff" stroke-width="7.95"/>
<path d="M666.6 758.2 L671.6 755.0" stroke="#ff00ff" stroke-width="7.95"/>
<path d="M682.2 748.3 L687.2 745.1" stroke="#ff00ff" stroke-width="7.95"/>
<path d="M697.6 738.5 L702.6 735.3" stroke="#ff00ff" stroke-width="7.95"/>
<path d="M713.3 728.6 L718.3 725.4" stroke="#ff00ff" stroke-width="7.95"/>
<path d="M729.3 718.5 L734.3 715.3" stroke="#ff00ff" stroke-width="7.95"/>
<path d="M745.3 708.5 L750.5 705.3" stroke="#ff00ff" stroke-width="7.95"/>
<path d="M761.4 698.6 L766.6 695.5" stroke="#ff00ff" stroke-width="7.94"/>
<path d="M777.5 688.8 L782.7 685.8" stroke="#ff00ff" stroke-width="7.94"/>
<path d="M793.6 679.3 L798.8 676.2" stroke="#ff00ff" stroke-width="7.94"/>
<path d="M810.2 669.6 L815.4 666.6" stroke="#ff00ff" stroke-width="7.93"/>
<path d="M826.0 660.6 L831.2 657.7" stroke="#ff00ff" stroke-width="7.93"/>
<path d="M842.7 651.4 L847.9 648.6" stroke="#ff00ff" stroke-width="7.92"/>
<path d="M859.0 642.6 L864.4 639.9" stroke="#ff00ff" stroke-width="7.91"/>
<path d="M875.0 634.4 L880.4 631.7" stroke="#ff00ff" stroke-width="7.90"/>
<path d="M892.3 625.9 L897.7 623.3" stroke="#ff00ff" stroke-width="7.89"/>
<path d="M909.3 617.8 L914.7 615.4" stroke="#ff00ff" stroke-width="7.88"/>
<path d="M926.4 610.2 L932.0 607.8" stroke="#ff00ff" stroke-width="7.86"/>
<path d="M944.0 602.8 L949.6 600.6" stroke="#ff00ff" stroke-width="7.85"/>
<path d="M961.6 595.9 L967.2 593.8" stroke="#ff00ff" stroke-width="7.83"/>
<path d="M979.3 589.4 L984.9 587.4" stroke="#ff00ff" stroke-width="7.81"/>
<path d="M997.0 583.3 L1002.7 581.5" stroke="#ff00ff" stroke-width="7.80"/>
<path d="M1014.6 577.6 L1020.4 575.9" stroke="#ff00ff" stroke-width="7.78"/>
<path d="M1033.6 571.9 L1039.4 570.2" stroke="#ff00ff" stroke-width="7.77"/>
<path d="M1051.3 566.9 L1057.1 565.3" stroke="#ff00ff" stroke-width="7.75"/>
<path d="M1068.9 562.2 L1074.7 560.7" stroke="#ff00ff" stroke-width="7.74"/>
<path d="M1086.6 557.7 L1092.4 556.2" stroke="#ff00ff" stroke-width="7.73"/>
<path d="M1104.3 553.4 L1110.1 552.0" stroke="#ff00ff" stroke-width="7.72"/>
<path d="M1123.3 549.0 L1129.1 547.7" stroke="#ff00ff" stroke-width="7.71"/>
<path d="M1141.0 545.1 L1146.8 543.9" stroke="#ff00ff" stroke-width="7.71"/>
<path d="M1159.9 541.1 L1165.7 539.9" stroke="#ff00ff" stroke-width="7.70"/>
<path d="M1177.6 537.4 L1183.4 536.2" stroke="#ff00ff" stroke-width="7.70"/>
<path d="M1196.6 533.5 L1202.4 532.3" stroke="#ff00ff" stroke-width="7.70"/>
<path d="M1214.3 529.9 L1220.1 528.7" stroke="#ff00ff" stroke-width="7.69"/>
<path d="M1231.9 526.3 L1237.7 525.1" stroke="#ff00ff" stroke-width="7.70"/>
<path d="M1249.6 522.7 L1255.4 521.5" stroke="#ff00ff" stroke-width="7.70"/>
<path d="M1267.3 519.0 L1273.1 517.8" stroke="#ff00ff" stroke-width="7.70"/>
<path d="M1285.9 515.0 L1291.7 513.7" stroke="#ff00ff" stroke-width="7.71"/>
<path d="M1303.8 511.0 L1309.6 509.7" stroke="#ff00ff" stroke-width="7.72"/>
<path d="M1322.0 506.8 L1327.8 505.4" stroke="#ff00ff" stroke-width="7.73"/>
<path d="M1338.8 502.8 L1344.6 501.3" stroke="#ff00ff" stroke-width="7.74"/>
<path d="M1356.3 498.3 L1362.1 496.8" stroke="#ff00ff" stroke-width="7.75"/>
<path d="M1373.1 493.8 L1378.9 492.2" stroke="#ff00ff" stroke-width="7.76"/>
<path d="M1390.4 489.0 L1396.2 487.3" stroke="#ff00ff" stroke-width="7.76"/>
<path d="M1407.6 484.0 L1413.4 482.3" stroke="#ff00ff" stroke-width="7.77"/>
<path d="M1423.7 479.2 L1429.5 477.4" stroke="#ff00ff" stroke-width="7.78"/>
<path d="M1440.4 474.0 L1446.2 472.2" stroke="#ff00ff" stroke-width="7.79"/>
<path d="M1457.5 468.5 L1463.3 466.6" stroke="#ff00ff" stroke-width="7.80"/>
<path d="M1475.3 462.7 L1480.9 460.8" stroke="#ff00ff" stroke-width="7.80"/>
<path d="M1492.0 457.0 L1497.6 455.0" stroke="#ff00ff" stroke-width="7.81"/>
<path d="M1508.7 451.2 L1514.3 449.2" stroke="#ff00ff" stroke-width="7.81"/>
<path d="M1525.2 445.3 L1530.8 443.3" stroke="#ff00ff" stroke-width="7.82"/>
<path d="M1541.6 439.3 L1547.2 437.2" stroke="#ff00ff" stroke-width="7.82"/>
<path d="M1558.1 433.2 L1563.7 431.1" stroke="#ff00ff" stroke-width="7.83"/>
<path d="M1574.6 426.9 L1580.2 424.8" stroke="#ff00ff" stroke-width="7.83"/>
<path d="M1591.0 420.6 L1596.6 418.4" stroke="#ff00ff" stroke-width="7.84"/>
<path d="M1607.5 414.2 L1613.1 411.9" stroke="#ff00ff" stroke-width="7.84"/>
<path d="M1623.7 407.7 L1629.3 405.5" stroke="#ff00ff" stroke-width="7.85"/>
<path d="M1639.5 401.3 L1645.1 399.1" stroke="#ff00ff" stroke-width="7.85"/>
<path d="M1654.8 395.1 L1660.4 392.8" stroke="#ff00ff" stroke-width="7.85"/>
<path d="M1670.7 388.5 L1676.3 386.2" stroke="#ff00ff" stroke-width="7.85"/>
<path d="M1686.1 382.1 L1691.7 379.8" stroke="#ff00ff" stroke-width="7.86"/>
<path d="M1702.6 375.2 L1708.2 372.8" stroke="#ff00ff" stroke-width="7.86"/>
<path d="M166.0 727.2 L206.3 703.7" stroke="#008000" stroke-width="7.94"/>
<path d="M232.4 685.7h0.01" stroke="#008000" stroke-width="7.97"/>
<path d="M258.4 668.0 L293.7 643.5" stroke="#008000" stroke-width="7.97"/>
<path d="M319.2 624.4h0.01" stroke="#008000" stroke-width="7.99"/>
<path d="M343.2 604.8 L375.5 576.3" stroke="#008000" stroke-width="8.00"/>
<path d="M398.9 554.8h0.01" stroke="#008000" stroke-width="8.00"/>
<path d="M422.4 532.8 L453.6 503.2" stroke="#008000" stroke-width="8.00"/>
<path d="M475.9 481.8h0.01" stroke="#008000" stroke-width="8.00"/>
<path d="M498.6 459.6 L528.5 428.7" stroke="#008000" stroke-width="8.00"/>
<path d="M550.1 404.8h0.01" stroke="#008000" stroke-width="8.00"/>
<path d="M571.8 381.6 L602.3 351.3" stroke="#008000" stroke-width="8.00"/>
<path d="M623.5 327.6h0.01" stroke="#008000" stroke-width="8.00"/>
<path d="M645.8 305.6 L676.4 275.4" stroke="#008000" stroke-width="8.00"/>
<path d="M699.0 253.3h0.01" stroke="#008000" stroke-width="8.00"/>
<path d="M722.8 231.2 L756.0 203.8" stroke="#008000" stroke-width="7.99"/>
<path d="M780.4 184.9h0.01" stroke="#008000" stroke-width="7.98"/>
<path d="M805.7 165.7 L841.3 141.7" stroke="#008000" stroke-width="7.96"/>
<path d="M868.9 126.0h0.01" stroke="#008000" stroke-width="7.91"/>
<path d="M897.3 112.2 L937.4 96.7" stroke="#008000" stroke-width="7.84"/>
<path d="M967.2 88.0h0.01" stroke="#008000" stroke-width="7.74"/>
<path d="M998.3 81.0 L1040.7 74.1" stroke="#008000" stroke-width="7.66"/>
<path d="M1072.1 70.6h0.01" stroke="#008000" stroke-width="7.60"/>
<path d="M1103.8 68.0 L1146.8 65.7" stroke="#008000" stroke-width="7.55"/>
<path d="M1177.5 64.7h0.01" stroke="#008000" stroke-width="7.53"/>
<path d="M1208.7 64.0 L1251.7 63.2" stroke="#008000" stroke-width="7.52"/>
<path d="M1283.4 62.6h0.01" stroke="#008000" stroke-width="7.52"/>
<path d="M1315.3 61.8 L1358.2 60.6" stroke="#008000" stroke-width="7.53"/>
<path d="M1389.4 59.6h0.01" stroke="#008000" stroke-width="7.53"/>
<path d="M1419.6 58.6 L1462.6 57.1" stroke="#008000" stroke-width="7.53"/>
<path d="M1473.7 56.7 L1516.6 55.3" stroke="#008000" stroke-width="7.53"/>
<path d="M1545.9 54.3h0.01" stroke="#008000" stroke-width="7.54"/>
<path d="M1576.6 53.1 L1619.5 50.9" stroke="#008000" stroke-width="7.55"/>
<path d="M1650.2 48.8h0.01" stroke="#008000" stroke-width="7.58"/>
<path d="M1678.5 46.3 L1716.5 41.7" stroke="#008000" stroke-width="7.62"/>
</g>
<g fill="none" stroke-width="7.5" stroke-linecap="round">
<line x1="967.4" y1="136.5" x2="1081.5" y2="136.5" stroke="#000"/>
<line x1="967.4" y1="187.4" x2="1061.7" y2="187.4" stroke="#ff0000"/>
<path d="M967.4 240.4H1011.4M1042.3 240.4H1081.5" stroke="#0000ff"/>
<clipPath id="lgclip"><rect x="960" y="280" width="125.1" height="30"/></clipPath>
<line x1="967.4" y1="295.4" x2="1095" y2="295.4" stroke="#ff00ff" stroke-dasharray="6 12.9" clip-path="url(#lgclip)"/>
<path d="M967.4 347.3H1011.3M1042.4 347.3h0.01M1073.6 347.3H1081.5" stroke="#008000"/>
</g>
<g font-size="50">
<text transform="translate(1084.6 151.7) scale(1 1.04)" dx="0 2.0 1.0 -1.4 0.3 0.6 -0.6 -2.0 3.1 -1.8 -0.2 0">LDPE0/EPDM0</text>
<text transform="translate(1084.6 202.9) scale(1 1.04)" dx="0 2.0 1.0 -1.4 0.3 0.6 -0.6 -2.0 3.1 -1.8 -0.2 0">LDPE0/EPDM15</text>
<text transform="translate(1082.8 256.8) scale(1 1.04)" dx="0 2.0 1.0 -1.4 0.3 0.6 -0.6 -2.0 3.1 -1.8 -0.2 0">LDPE0/EPDM30</text>
<text transform="translate(1082.8 310.8) scale(1 1.04)" dx="0 2.0 1.0 -1.4 0.3 0.6 -0.6 -2.0 3.1 -1.8 -0.2 0">LDPE0/EPDM60</text>
<text transform="translate(1082.8 364.8) scale(1 1.04)" dx="0 2.0 1.0 -1.4 0.3 0 0.6 -0.6 -2.0 3.1 -1.8 -0.2 0">LDPE30/EPDM30</text>
<text transform="translate(118.5 59.6) scale(1 1.04)">1</text>
<text transform="translate(118.5 259.8) scale(1 1.04)">0</text>
<text transform="translate(91.6 460.9) scale(1 1.04)">-1</text>
<text transform="translate(91.6 661.6) scale(1 1.04)">-2</text>
<text transform="translate(91.6 862.4) scale(1 1.04)">-3</text>
<text transform="translate(91.6 1063.0) scale(1 1.04)">-4</text>
<text transform="translate(417.4 1145.2) scale(1 1.04)">10</text>
<text transform="translate(468.1 1114) scale(1 1.04)" font-size="32.5">1</text>
<text transform="translate(1120.8 1145.2) scale(1 1.04)">10</text>
<text transform="translate(1172.3 1114) scale(1 1.04)" font-size="32.5">2</text>
<text transform="translate(852.4 1201.8) scale(1 1.04)" letter-spacing="0.4" dx="0 3.7 -1.2 -2.5 0 0 0.8 0.9">Time (s)</text>
<text transform="translate(56.8 871.8) rotate(-90) scale(1 1.04)" dx="1.5 -1.5">Interface charge density (C/m<tspan font-size="32.5" dy="-22.6">3</tspan><tspan dy="22.6" dx="2.3">)</tspan></text>
</g>
<g shape-rendering="crispEdges">
<rect x="121.1" y="55.4" width="9.7" height="5.2" fill="#fff"/>
<rect x="135.8" y="55.4" width="10.0" height="5.2" fill="#fff"/>
<rect x="110.8" y="456.8" width="9.7" height="5.2" fill="#fff"/>
<rect x="125.5" y="456.8" width="10.0" height="5.2" fill="#fff"/>
<rect x="420.0" y="1141.0" width="9.7" height="5.2" fill="#fff"/>
<rect x="434.7" y="1141.0" width="10.0" height="5.2" fill="#fff"/>
<rect x="1123.4" y="1141.0" width="9.7" height="5.2" fill="#fff"/>
<rect x="1138.1" y="1141.0" width="10.0" height="5.2" fill="#fff"/>
<rect x="469.8" y="1111.3" width="6.3" height="3.4" fill="#fff"/>
<rect x="479.3" y="1111.3" width="6.5" height="3.4" fill="#fff"/>
<rect x="1404.9" y="198.7" width="9.7" height="5.2" fill="#fff"/>
<rect x="1419.6" y="198.7" width="10.0" height="5.2" fill="#fff"/>
</g>
</svg></body></html>
